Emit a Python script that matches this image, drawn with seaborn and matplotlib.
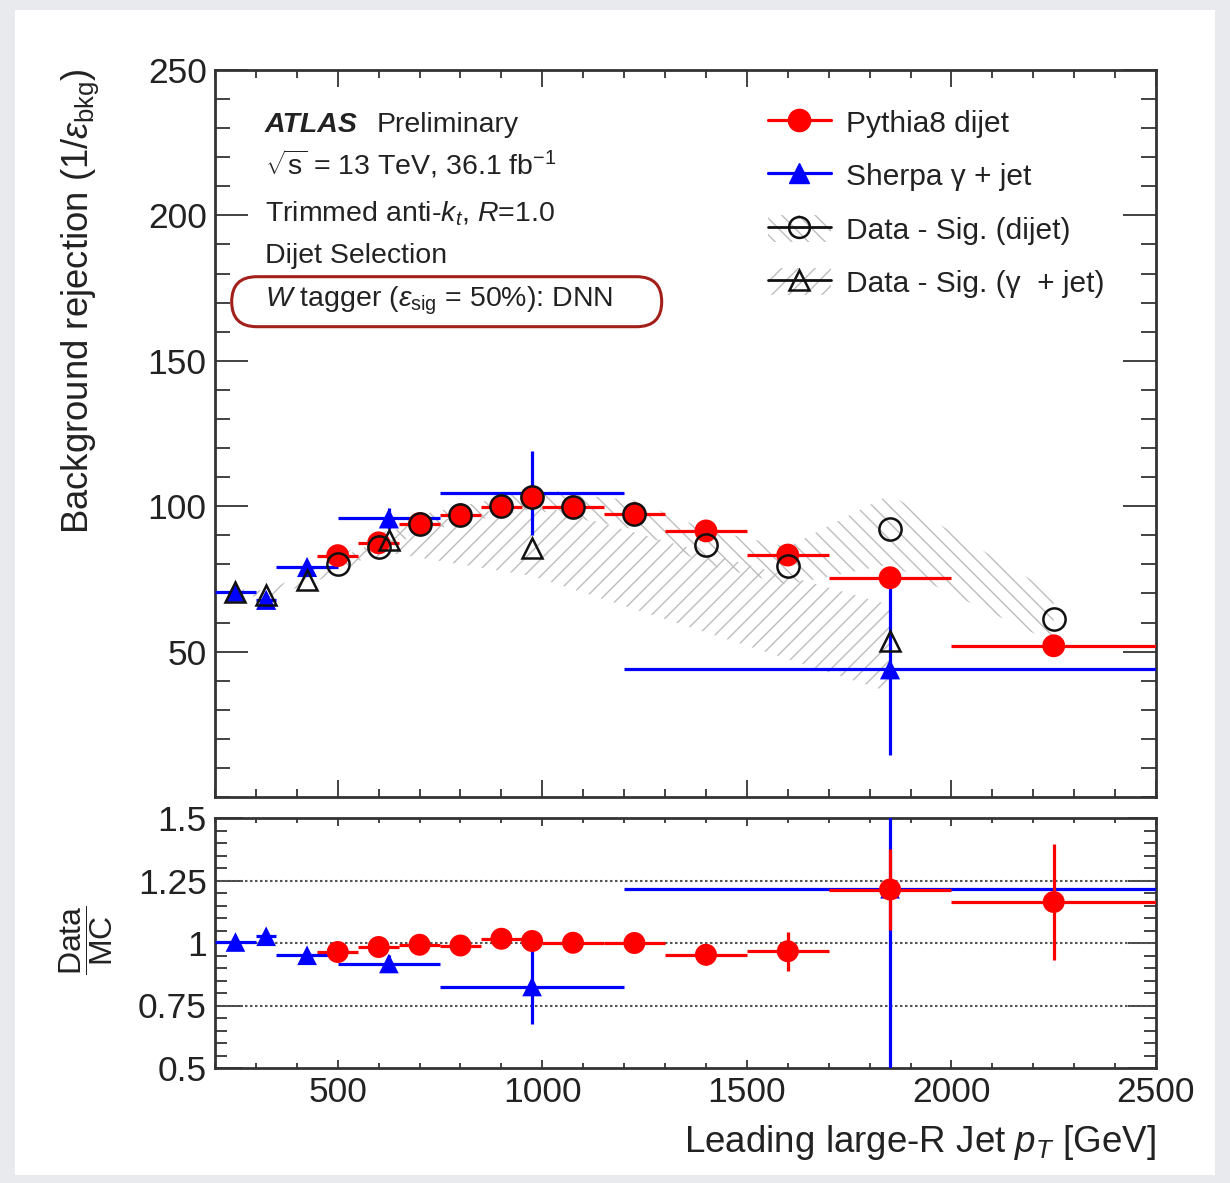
import matplotlib
matplotlib.use("Agg")
import matplotlib.pyplot as plt
import seaborn as sns
import numpy as np
from matplotlib.lines import Line2D
from matplotlib.patches import Patch, FancyBboxPatch, Rectangle
from matplotlib.ticker import MultipleLocator, FixedLocator, NullFormatter
from matplotlib.legend_handler import HandlerTuple

# ---------------- data ----------------
pythia_pt = [500, 600, 700, 800, 900, 975, 1075, 1225, 1400, 1600, 1850, 2250]
pythia_lo = [450, 550, 650, 750, 850, 950, 1000, 1150, 1300, 1500, 1700, 2000]
pythia_hi = [550, 650, 750, 850, 950, 1000, 1150, 1300, 1500, 1700, 2000, 2500]
pythia_rej = [83.0, 87.4, 94.0, 97.0, 99.8, 102.9, 99.8, 97.4, 91.5, 83.2, 75.4, 52.0]
pythia_err = [1, 1, 1, 1, 1, 1, 1, 1, 1.5, 1.5, 2, 2]

sherpa_pt = [250, 325, 425, 625, 975, 1850]
sherpa_lo = [200, 300, 350, 500, 750, 1200]
sherpa_hi = [300, 350, 500, 750, 1200, 2500]
sherpa_rej = [70.6, 67.8, 79.1, 95.8, 104.5, 43.9]
sherpa_err = [1, 1, 1.5, 3.5, 14.5, 29.5]

data_dijet_rej = [80.0, 86.1, 94.0, 97.0, 100.0, 103.0, 99.8, 97.4, 86.5, 79.4, 92.0, 61.1]
data_dijet_band_lo = [78, 84, 91, 94, 97, 99, 96, 92, 80, 73, 80, 53]
data_dijet_band_hi = [82, 88, 97, 100, 103, 107, 104, 102, 92, 86, 104, 70]

data_gam_rej = [70.6, 69.5, 74.7, 88.4, 85.7, 53.7]
data_gam_band_lo = [69.5, 68.5, 73, 84, 76, 36]
data_gam_band_hi = [71.5, 71, 77, 92, 101, 66]

ratio_pythia = [0.964, 0.984, 0.993, 0.990, 1.017, 1.008, 1.001, 1.000, 0.953, 0.967, 1.214, 1.164]
ratio_pythia_err = [0.01, 0.01, 0.01, 0.01, 0.01, 0.01, 0.01, 0.01, 0.04, 0.077, 0.162, 0.233]
ratio_sherpa = [1.004, 1.027, 0.951, 0.918, 0.826, 1.217]
ratio_sherpa_err = [0.01, 0.01, 0.01, 0.035, 0.15, 0.9]

main_yticks = [50, 100, 150, 200, 250]
ratio_yticks = [0.5, 0.75, 1.0, 1.25, 1.5]
ratio_yticklabels = ["0.5", "0.75", "1", "1.25", "1.5"]
xticks = [500, 1000, 1500, 2000, 2500]

# ---------------- style ----------------
sns.set_theme(style="ticks")
plt.rcParams["font.family"] = ["Liberation Sans", "DejaVu Sans"]
plt.rcParams["mathtext.fontset"] = "custom"
plt.rcParams["mathtext.rm"] = "Liberation Sans"
plt.rcParams["mathtext.it"] = "Liberation Sans:italic"
plt.rcParams["mathtext.bf"] = "Liberation Sans:bold"
plt.rcParams["hatch.linewidth"] = 1.0

W, H = 1230, 1183
fig = plt.figure(figsize=(W / 100, H / 100), dpi=100)
fig.patch.set_facecolor("#e8eaed")
fig.patches.append(Rectangle((15 / W, 1 - 1175 / H), 1200 / W, 1165 / H,
                             transform=fig.transFigure, facecolor="white",
                             edgecolor="none", zorder=-10))


def fx(x):
    return x / W


def fy(y):
    return 1 - y / H


L, R = 215, 1156
ax = fig.add_axes([fx(L), fy(797), (R - L) / W, (797 - 70) / H])
ax2 = fig.add_axes([fx(L), fy(1068), (R - L) / W, (1068 - 818) / H])

RED = "#ff0000"
BLUE = "#0000ff"
HATCHC = "#bdbdbd"
TICK = 25.5

# ---------------- main panel ----------------
pp = np.array(pythia_pt)
sp = np.array(sherpa_pt)
ax.fill_between(sherpa_pt, data_gam_band_lo, data_gam_band_hi, facecolor="none",
                edgecolor=HATCHC, hatch="//", linewidth=0, zorder=1)
ax.fill_between(pythia_pt, data_dijet_band_lo, data_dijet_band_hi, facecolor="none",
                edgecolor=HATCHC, hatch="\\\\", linewidth=0, zorder=1)

ax.errorbar(sherpa_pt, sherpa_rej,
            xerr=[sp - np.array(sherpa_lo), np.array(sherpa_hi) - sp],
            yerr=sherpa_err, fmt="none", ecolor=BLUE, elinewidth=2.3, capsize=0, zorder=3)
sns.scatterplot(x=sherpa_pt, y=sherpa_rej, ax=ax, marker="^", s=210, color=BLUE,
                edgecolor="none", linewidth=0, zorder=4, legend=False)
ax.errorbar(pythia_pt, pythia_rej,
            xerr=[pp - np.array(pythia_lo), np.array(pythia_hi) - pp],
            yerr=pythia_err, fmt="none", ecolor=RED, elinewidth=2.3, capsize=0, zorder=5)
sns.scatterplot(x=pythia_pt, y=pythia_rej, ax=ax, marker="o", s=270, color=RED,
                edgecolor="none", linewidth=0, zorder=6, legend=False)
ax.plot(pythia_pt, data_dijet_rej, ls="none", marker="o", ms=16, mfc="none",
        mec="#111111", mew=1.8, zorder=7)
ax.plot(sherpa_pt, data_gam_rej, ls="none", marker="^", ms=15, mfc="none",
        mec="#111111", mew=1.8, zorder=7)

ax.set_xlim(200, 2500)
ax.set_ylim(0, 250)
ax.xaxis.set_major_locator(FixedLocator(xticks))
ax.xaxis.set_minor_locator(MultipleLocator(100))
ax.xaxis.set_major_formatter(NullFormatter())
ax.yaxis.set_major_locator(FixedLocator(main_yticks))
ax.yaxis.set_minor_locator(MultipleLocator(10))
ax.set_yticklabels([str(t) for t in main_yticks])
ax.tick_params(axis="both", which="both", direction="in", top=True, right=True,
               colors="#222222", width=1.2, labelsize=TICK, pad=6)
ax.tick_params(axis="x", which="major", length=12)
ax.tick_params(axis="x", which="minor", length=6)
ax.tick_params(axis="y", which="major", length=24)
ax.tick_params(axis="y", which="minor", length=11)

# ---------------- ratio panel ----------------
for yv in [0.75, 1.0, 1.25]:
    ax2.axhline(yv, color="#555555", lw=1.5, ls=(0, (1.2, 1.2)), zorder=1)
ax2.errorbar(sherpa_pt, ratio_sherpa,
             xerr=[sp - np.array(sherpa_lo), np.array(sherpa_hi) - sp],
             yerr=ratio_sherpa_err, fmt="none", ecolor=BLUE, elinewidth=2.3, capsize=0, zorder=3)
sns.scatterplot(x=sherpa_pt, y=ratio_sherpa, ax=ax2, marker="^", s=200, color=BLUE,
                edgecolor="none", linewidth=0, zorder=4, legend=False)
ax2.errorbar(pythia_pt, ratio_pythia,
             xerr=[pp - np.array(pythia_lo), np.array(pythia_hi) - pp],
             yerr=ratio_pythia_err, fmt="none", ecolor=RED, elinewidth=2.3, capsize=0, zorder=5)
sns.scatterplot(x=pythia_pt, y=ratio_pythia, ax=ax2, marker="o", s=250, color=RED,
                edgecolor="none", linewidth=0, zorder=6, legend=False)

ax2.set_xlim(200, 2500)
ax2.set_ylim(0.5, 1.5)
ax2.xaxis.set_major_locator(FixedLocator(xticks))
ax2.xaxis.set_minor_locator(MultipleLocator(100))
ax2.set_xticklabels([str(t) for t in xticks])
ax2.yaxis.set_major_locator(FixedLocator(ratio_yticks))
ax2.yaxis.set_minor_locator(MultipleLocator(0.05))
ax2.set_yticklabels(ratio_yticklabels)
ax2.tick_params(axis="both", which="both", direction="in", top=True, right=True,
                colors="#222222", width=1.2, labelsize=TICK, pad=6)
ax2.tick_params(axis="x", which="major", length=6)
ax2.tick_params(axis="x", which="minor", length=3.5)
ax2.tick_params(axis="y", which="major", length=20)
ax2.tick_params(axis="y", which="minor", length=8.5)

for a in (ax, ax2):
    for s in a.spines.values():
        s.set_linewidth(2.0)
        s.set_color("#333333")
    a.set_xlabel("")
    a.set_ylabel("")

# ---------------- axis titles ----------------
fig.text(fx(80), fy(68), r"Background rejection (1/$\epsilon_{\rm bkg}$)", rotation=90,
         ha="center", va="top", fontsize=26.3, color="#222222")
fig.text(fx(86), fy(940), r"$\dfrac{\rm Data}{\rm MC}$", rotation=90,
         ha="center", va="center", fontsize=23, color="#222222")
fig.text(fx(1156), fy(1142), r"Leading large-R Jet $p_{T}$ [GeV]", ha="right",
         va="center", fontsize=26.5, color="#222222")

# ---------------- annotations ----------------
TX = 265
fig.text(fx(TX), fy(131.7), "ATLAS", fontsize=20.5, fontweight="bold", style="italic",
         va="baseline", color="#222222")
fig.text(fx(376.7), fy(131.7), "Preliminary", fontsize=20.5, va="baseline", color="#222222")
fig.text(fx(TX), fy(174), r"$\sqrt{\mathrm{s}}$ = 13 TeV, 36.1 fb$^{-1}$", fontsize=20.5,
         va="baseline", color="#222222")
fig.text(fx(TX), fy(221.7), r"Trimmed anti-$k_{t}$, $R$=1.0", fontsize=20.5,
         va="baseline", color="#222222")
fig.text(fx(TX), fy(262.7), "Dijet Selection", fontsize=20.5, va="baseline", color="#222222")
fig.text(fx(TX), fy(306.7), r"$W$ tagger ($\epsilon_{\rm sig}$ = 50%): DNN", fontsize=20.5,
         va="baseline", color="#222222")
fig.patches.append(FancyBboxPatch((2.317, (H - 326.7) / 100), 4.30, 0.50,
                                  boxstyle="round,pad=0,rounding_size=0.25",
                                  transform=fig.dpi_scale_trans, facecolor="none",
                                  edgecolor="#a3201a", linewidth=2.2, zorder=10))

# ---------------- legend ----------------
h1 = Line2D([], [], color=RED, lw=2.3, marker="o", ms=16, mec=RED)
h2 = Line2D([], [], color=BLUE, lw=2.3, marker="^", ms=14, mec=BLUE)
p3 = Patch(facecolor="none", edgecolor=HATCHC, hatch="\\\\", linewidth=0)
l3 = Line2D([], [], color="#111111", lw=2.0, marker="o", ms=15, mfc="none", mec="#111111", mew=1.8)
p4 = Patch(facecolor="none", edgecolor=HATCHC, hatch="//", linewidth=0)
l4 = Line2D([], [], color="#111111", lw=2.0, marker="^", ms=14, mfc="none", mec="#111111", mew=1.8)
leg = ax.legend([h1, h2, (p3, l3), (p4, l4)],
                ["Pythia8 dijet", r"Sherpa γ + jet", "Data - Sig. (dijet)", "Data - Sig. (γ  + jet)"],
                handler_map={tuple: HandlerTuple(ndivide=1)},
                loc="upper left", bbox_to_anchor=(fx(768), fy(108)),
                bbox_transform=fig.transFigure, frameon=False, fontsize=21.5,
                handlelength=2.1, handleheight=1.0, handletextpad=0.5,
                labelspacing=0.8, borderpad=0, borderaxespad=0)
for t in leg.get_texts():
    t.set_color("#222222")

fig.savefig("out.png", dpi=100, facecolor=fig.get_facecolor())
